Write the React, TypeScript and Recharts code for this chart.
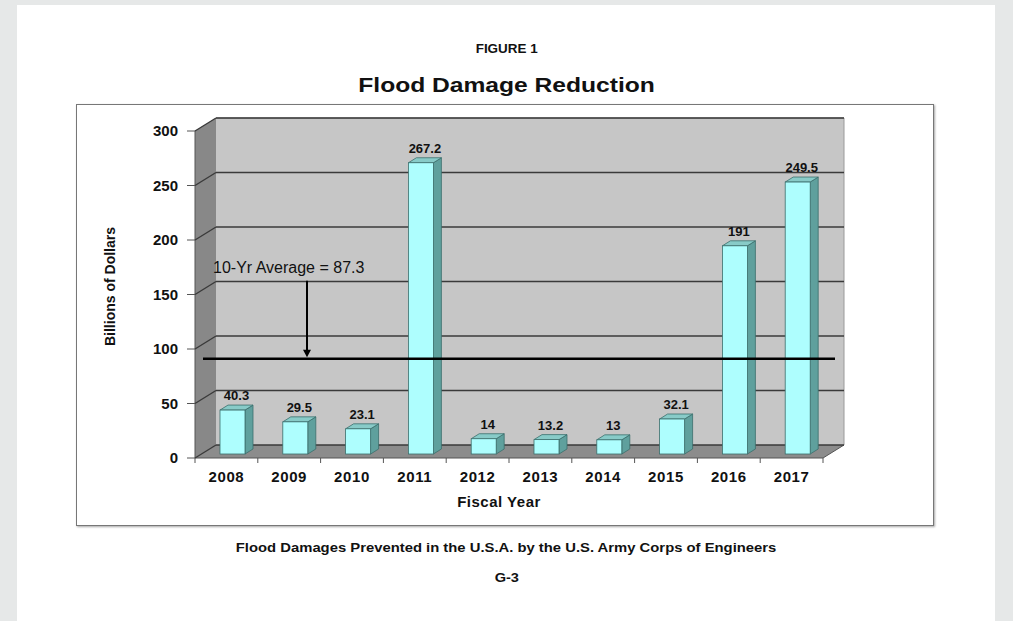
import { Bar, BarChart, CartesianGrid, LabelList, ReferenceLine, XAxis, YAxis } from "recharts";

const YEARS = ["2008", "2009", "2010", "2011", "2012", "2013", "2014", "2015", "2016", "2017"];
const DAMAGES_PREVENTED = [40.3, 29.5, 23.1, 267.2, 14, 13.2, 13, 32.1, 191, 249.5];
const Y_TICKS = [0, 50, 100, 150, 200, 250, 300];
const TEN_YEAR_AVERAGE = 87.3;

const data = YEARS.map((year, i) => ({ year, value: DAMAGES_PREVENTED[i] }));

const W = 1013;
const H = 621;
const MARGIN = { top: 131, right: 190, bottom: 123, left: 135 };
const Y_AXIS_W = 60;
const X_AXIS_H = 40;
const BAND = (W - MARGIN.left - Y_AXIS_W - MARGIN.right) / YEARS.length;

// fake 3D: depth of the box, where bars stand in it, and bar thickness
const DEPTH = { dx: 21, dy: -13 };
const BAR_SHIFT = { dx: 6, dy: -4 };
const BAR_DEPTH = { dx: 8, dy: -5 };

const ARIAL = "'Liberation Sans', Arial, sans-serif";
const NARROW = "'Liberation Sans Narrow', 'Liberation Sans', Arial, sans-serif";

function renderGridLine(props: any) {
  const { x1, x2, y1, index } = props;
  const x = props.x ?? x1;
  const w = props.width ?? x2 - x1;
  const top = props.y ?? MARGIN.top;
  const h = props.height ?? 327;
  const bottom = top + h;
  const { dx, dy } = DEPTH;
  return (
    <g key={`grid-${index}`}>
      {index === 0 && (
        <g>
          <rect x={x + dx} y={top + dy} width={w} height={h} fill="#c6c6c6" />
          <polygon
            points={`${x},${top} ${x + dx},${top + dy} ${x + dx},${bottom + dy} ${x},${bottom}`}
            fill="#888888"
          />
          <polygon
            points={`${x},${bottom} ${x + w},${bottom} ${x + w + dx},${bottom + dy} ${x + dx},${bottom + dy}`}
            fill="#8c8c8c"
          />
          <line x1={x + w + dx} y1={top + dy} x2={x + w + dx} y2={bottom + dy} stroke="#9a9a9a" />
          <line x1={x + dx} y1={top + dy} x2={x + w + dx} y2={top + dy} stroke="#8a8a8a" />
          <line x1={x} y1={top} x2={x} y2={bottom} stroke="#555" />
          <line x1={x} y1={bottom} x2={x + w} y2={bottom} stroke="#555" />
          <line x1={x + w} y1={bottom} x2={x + w + dx} y2={bottom + dy} stroke="#555" />
        </g>
      )}
      <line x1={x1} y1={y1} x2={x1 + dx} y2={y1 + dy} stroke="#3a3a3a" strokeWidth={1.4} />
      <line x1={x1 + dx} y1={y1 + dy} x2={x2 + dx} y2={y1 + dy} stroke="#3a3a3a" strokeWidth={1.4} />
    </g>
  );
}

function Bar3D(props: any) {
  const { x, y, width, height } = props;
  if (!height || height <= 0) return null;
  const bx = x + BAR_SHIFT.dx;
  const by = y + BAR_SHIFT.dy;
  const bottom = by + height;
  const { dx, dy } = BAR_DEPTH;
  return (
    <g stroke="#3b6e6c" strokeWidth={0.8}>
      <polygon
        points={`${bx + width},${by} ${bx + width + dx},${by + dy} ${bx + width + dx},${bottom + dy} ${bx + width},${bottom}`}
        fill="#5fa09d"
      />
      <polygon
        points={`${bx},${by} ${bx + dx},${by + dy} ${bx + width + dx},${by + dy} ${bx + width},${by}`}
        fill="#88cbc8"
      />
      <rect x={bx} y={by} width={width} height={height} fill="#aefefe" />
    </g>
  );
}

function BarValue(props: any) {
  const { x, y, width, value } = props;
  return (
    <text
      x={x + width / 2 + BAR_SHIFT.dx + BAR_DEPTH.dx / 2}
      y={y + BAR_SHIFT.dy - 10}
      textAnchor="middle"
      fontFamily={ARIAL}
      fontWeight="bold"
      fontSize={13}
      fill="#111"
    >
      {value}
    </text>
  );
}

function YTick(props: any) {
  const { x, y, payload } = props;
  return (
    <g>
      <line x1={x - 8} y1={y} x2={x} y2={y} stroke="#555" />
      <text x={x - 17} y={y + 5} textAnchor="end" fontFamily={ARIAL} fontWeight="bold" fontSize={15} fill="#111">
        {payload.value}
      </text>
    </g>
  );
}

function XTick(props: any) {
  const { x, y, payload, index } = props;
  const half = BAND / 2;
  return (
    <g>
      <line x1={x - half} y1={y} x2={x - half} y2={y + 5} stroke="#555" />
      {index === YEARS.length - 1 && <line x1={x + half} y1={y} x2={x + half} y2={y + 5} stroke="#555" />}
      <text
        x={x}
        y={y + 24}
        textAnchor="middle"
        fontFamily={ARIAL}
        fontWeight="bold"
        fontSize={15}
        letterSpacing={0.6}
        fill="#111"
      >
        {payload.value}
      </text>
    </g>
  );
}

function XTitle(props: any) {
  const { x, y, width, height } = props.viewBox;
  return (
    <text
      x={x + width / 2 - 10}
      y={y + height + 9}
      textAnchor="middle"
      fontFamily={ARIAL}
      fontWeight="bold"
      fontSize={15}
      letterSpacing={0.5}
      fill="#111"
    >
      Fiscal Year
    </text>
  );
}

function YTitle(props: any) {
  const { x, y, height } = props.viewBox;
  const cx = x - 25;
  const cy = y + height / 2 - 8;
  return (
    <text
      x={cx}
      y={cy}
      transform={`rotate(-90 ${cx} ${cy})`}
      textAnchor="middle"
      dominantBaseline="central"
      fontFamily={NARROW}
      fontWeight="bold"
      fontSize={14}
      fill="#111"
    >
      Billions of Dollars
    </text>
  );
}

function AverageLine(props: any) {
  const { x1, y1, x2 } = props;
  const y = y1 + BAR_SHIFT.dy;
  const ax = x1 + 112;
  return (
    <g>
      <line x1={x1 + 8} y1={y} x2={x2 + 12} y2={y} stroke="#000" strokeWidth={2.5} />
      <text x={x1 + 18} y={y - 86} fontFamily={ARIAL} fontSize={16} fill="#111">
        {`10-Yr Average = ${TEN_YEAR_AVERAGE}`}
      </text>
      <line x1={ax} y1={y - 78} x2={ax} y2={y - 8} stroke="#000" strokeWidth={2} />
      <polygon points={`${ax - 4},${y - 9} ${ax + 4},${y - 9} ${ax},${y - 1.5}`} fill="#000" />
    </g>
  );
}

const centered = (top: number, size: number, family: string) => ({
  position: "absolute" as const,
  left: 0,
  top: top - 10,
  width: W,
  lineHeight: "20px",
  textAlign: "center" as const,
  fontFamily: family,
  fontWeight: "bold" as const,
  fontSize: size,
  color: "#111",
});

export default function App() {
  return (
    <div style={{ position: "absolute", left: 0, top: 0, width: W, height: H, background: "#e6e8e8", overflow: "hidden" }}>
      <div style={{ position: "absolute", left: 17, top: 5, width: 978, height: H, background: "#fff" }} />
      <div
        style={{
          position: "absolute",
          left: 76,
          top: 104,
          width: 856,
          height: 420,
          border: "1px solid #777",
          boxShadow: "1px 1px 2px rgba(0,0,0,0.35)",
        }}
      />
      <div style={centered(49, 12, NARROW)}>
        <span style={{ display: "inline-block", transform: "scaleX(1.12)" }}>FIGURE 1</span>
      </div>
      <div style={centered(85, 20, ARIAL)}>
        <span style={{ display: "inline-block", transform: "scaleX(1.23)" }}>Flood Damage Reduction</span>
      </div>
      <div style={centered(548, 13, NARROW)}>
        <span style={{ display: "inline-block", transform: "scaleX(1.14)" }}>
          Flood Damages Prevented in the U.S.A. by the U.S. Army Corps of Engineers
        </span>
      </div>
      <div style={centered(578, 13, NARROW)}>
        <span style={{ display: "inline-block", transform: "scaleX(1.12)" }}>G-3</span>
      </div>
      <div style={{ position: "absolute", left: 0, top: 0 }}>
        <BarChart width={W} height={H} data={data} margin={MARGIN} barSize={25}>
          <CartesianGrid vertical={false} horizontal={renderGridLine} />
          <XAxis
            dataKey="year"
            height={X_AXIS_H}
            axisLine={false}
            tickLine={false}
            tickSize={0}
            tickMargin={0}
            tick={<XTick />}
            interval={0}
            label={{ value: "Fiscal Year", content: XTitle }}
          />
          <YAxis
            width={Y_AXIS_W}
            domain={[0, 300]}
            ticks={Y_TICKS}
            axisLine={false}
            tickLine={false}
            tickSize={0}
            tickMargin={0}
            tick={<YTick />}
            label={{ value: "Billions of Dollars", content: YTitle }}
          />
          <Bar dataKey="value" shape={Bar3D} isAnimationActive={false}>
            <LabelList dataKey="value" content={BarValue} />
          </Bar>
          <ReferenceLine y={TEN_YEAR_AVERAGE} shape={AverageLine} zIndex={450} />
        </BarChart>
      </div>
    </div>
  );
}
